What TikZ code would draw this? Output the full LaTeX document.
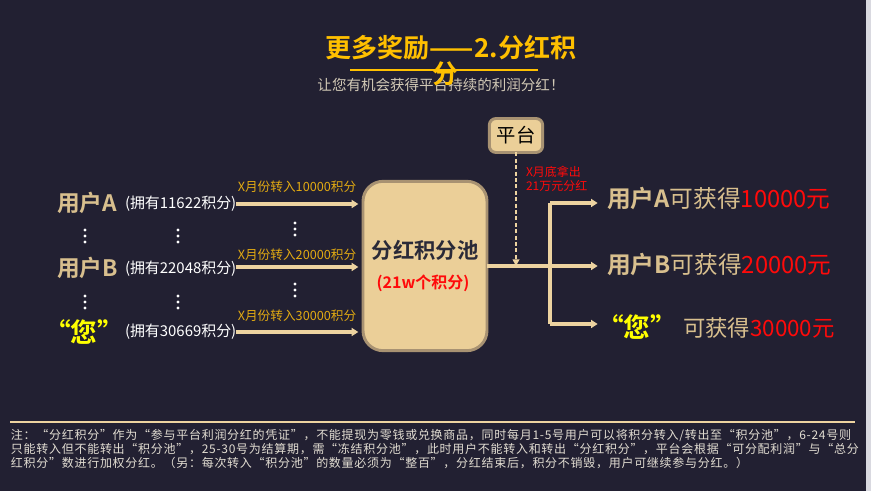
\documentclass[tikz,border=0pt]{standalone}
\usepackage{fontspec}
\setmainfont{Noto Sans CJK SC}[BoldFont={Noto Sans CJK SC Bold}]
\usetikzlibrary{arrows.meta}
\definecolor{bgc}{HTML}{222032}
\definecolor{linec}{HTML}{EDD3A0}
\definecolor{boxfill}{HTML}{EBCF98}
\definecolor{boxdraw}{HTML}{A89272}
\definecolor{userc}{HTML}{D8BF8E}
\definecolor{goldc}{HTML}{FFC000}
\definecolor{labc}{HTML}{E2AA12}
\definecolor{subc}{HTML}{D2C9B6}
\definecolor{redc}{HTML}{FF0A0A}
\definecolor{yelc}{HTML}{FFFF00}
\definecolor{darkc}{HTML}{2A2A38}
\definecolor{notec}{HTML}{E2DDD2}
\definecolor{stripc}{HTML}{D9D9E0}
\newcommand{\fs}[1]{\fontsize{#1}{#1}\selectfont}
\begin{document}
\begin{tikzpicture}[x=0.75pt,y=-0.75pt,
  every node/.style={inner sep=0pt,outer sep=0pt},
  arr/.style={draw=linec,line width=2.4pt,-{Triangle[length=5pt,width=6pt]}},
  bline/.style={draw=linec,line width=2.4pt},
  userl/.style={anchor=west,text=userc,font=\fs{17pt}\bfseries},
  own/.style={anchor=west,text=white,font=\fs{11.2pt}},
  lab/.style={text=labc,font=\fs{9.5pt}},
  rtxt/.style={anchor=west,text=userc,font=\fs{17.8pt}},
  you/.style={text=yelc,font=\fs{20pt}\bfseries},
  dotc/.style={fill=white,draw=none,circle,minimum size=2.4pt},
  notel/.style={anchor=west,text=notec,font=\fs{9pt}\addfontfeatures{LetterSpace=6}},
  roundbox/.style={fill=boxfill,draw=boxdraw,line width=2.2pt}
]
% background
\fill[bgc] (0,0) rectangle (871,491);
\fill[stripc] (866,0) rectangle (871,491);
\useasboundingbox (0,0) rectangle (871,491);

% title
\node[text=goldc,font=\fs{19.5pt}\bfseries] (title) at (451,48) {更多奖励——2.分红积};
\draw[goldc,line width=1.1pt] (350,70) -- (538,70);
\node[text=subc,font=\fs{10.9pt}] (sub) at (441,85) {让您有机会获得平台持续的利润分红！};
\node[text=goldc,font=\fs{19.5pt}\bfseries] (title2) at (445,74) {分};

% pool
\node[roundbox,rounded corners=15pt,minimum width=93pt,minimum height=127pt] (pool) at (425,266) {};
\node[text=darkc,font=\fs{16pt}\bfseries] (pooltitle) at (425,250) {分红积分池};
\node[text=redc,font=\fs{12pt}\bfseries] (poolsub) at (423,283) {(21w个积分)};

% platform
\node[roundbox,rounded corners=5pt,minimum width=40pt,minimum height=25.5pt] (plat) at (516,135.5) {};
\node[text=black,font=\fs{14.5pt}] (plattxt) at (516,135.5) {平台};

% left users
\node[userl] (ua) at (57,203) {用户A};
\node[own] (ha) at (125,204) {(拥有11622积分)};
\node[userl] (ub) at (57,268) {用户B};
\node[own] (hb) at (125,269) {(拥有22048积分)};
\node[you,anchor=west] (uc) at (44,332) {“您”};
\node[own] (hc) at (125,332) {(拥有30669积分)};

% vertical dots
\foreach \x/\y in {85/236,178/236,85/302,178/302,295/229,295/290}{
  \node[dotc] at (\x,\y-6) {};
  \node[dotc] at (\x,\y) {};
  \node[dotc] at (\x,\y+6) {};
}

% left arrows
\draw[arr,shorten >=3.5pt] (ha.east) -- (ha.east -| pool.west);
\draw[arr,shorten >=3.5pt] (hb.east |- 0,267) -- (pool.west |- 0,267);
\draw[arr,shorten >=3.5pt] (hc.east) -- (hc.east -| pool.west);
\node[lab] (la) at (297,187) {X月份转入10000积分};
\node[lab] (lb) at (297,255) {X月份转入20000积分};
\node[lab] (lc) at (297,316) {X月份转入30000积分};

% right distribution
\coordinate (j) at (550,266);
\coordinate (j1) at (550,203);
\coordinate (j3) at (550,324);
\draw[bline] (pool.east) -- (j);
\draw[bline] (j1) -- (j3);
\node[rtxt] (ra) at (607,199) {{\bfseries 用户A}可获得\textcolor{redc}{10000元}};
\node[rtxt] (rb) at (607,265) {{\bfseries 用户B}可获得\textcolor{redc}{20000元}};
\node[you,anchor=west] (rcy) at (597,327) {“您”};
\node[rtxt,font=\fs{16.8pt}] (rc) at (683,328) {可获得\textcolor{redc}{30000元}};
\draw[arr,shorten >=7pt] (j1) -- (j1 -| ra.west);
\draw[arr,shorten >=7pt] (j) -- (j -| rb.west);
\draw[arr,shorten >=7pt] (j3) -- (j3 -| ra.west);

% platform dashed arrow
\draw[draw=linec,line width=1.5pt,dash pattern=on 3pt off 1.8pt,-{Triangle[length=5pt,width=5pt]}] (plat.south) -- (plat.south |- j);
\node[anchor=north west,align=left,text=redc,font=\fontsize{9pt}{11pt}\selectfont] (red) at (526,166) {X月底拿出\\21万元分红};

% bottom note
\draw[linec,line width=1pt] (10,422) -- (855,422);
\node[notel] (n1) at (11,435) {注：“分红积分”作为“参与平台利润分红的凭证”，不能提现为零钱或兑换商品，同时每月1-5号用户可以将积分转入/转出至“积分池”，6-24号则};
\node[notel] (n2) at (11,449) {只能转入但不能转出“积分池”，25-30号为结算期，需“冻结积分池”，此时用户不能转入和转出“分红积分”，平台会根据“可分配利润”与“总分};
\node[notel] (n3) at (11,463) {红积分”数进行加权分红。（另：每次转入“积分池”的数量必须为“整百”，分红结束后，积分不销毁，用户可继续参与分红。）};
\end{tikzpicture}
\end{document}
